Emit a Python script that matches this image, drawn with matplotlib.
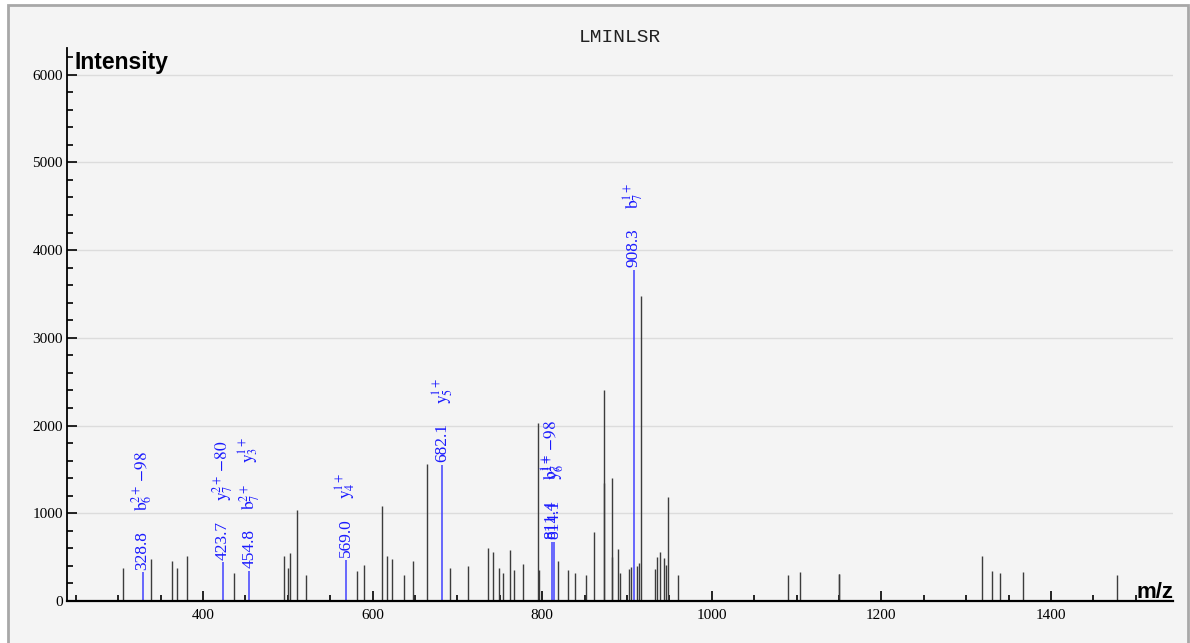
import matplotlib
matplotlib.use('Agg')
import matplotlib.pyplot as plt
from matplotlib.patches import Rectangle
from matplotlib.ticker import MultipleLocator

plt.rcParams['mathtext.fontset'] = 'stix'

title = 'LMINLSR'

# unmatched peaks (m/z, intensity)
peak_mz = [305.2, 339.2, 363.3, 370.0, 381.2, 437.0, 495.1, 500.2, 502.1, 510.4,
           522.0, 581.2, 589.6, 610.8, 617.4, 622.6, 636.8, 648.0, 664.8, 691.4,
           712.7, 736.4, 741.9, 749.5, 754.4, 762.0, 766.5, 777.6, 795.0, 796.7,
           818.7, 830.3, 838.8, 851.8, 860.8, 872.5, 873.2, 882.2, 882.8, 889.3,
           891.9, 902.8, 904.8, 911.5, 914.3, 916.6, 933.5, 935.9, 939.4, 944.1,
           946.1, 948.1, 960.7, 1089.9, 1103.6, 1149.6, 1150.5, 1318.5, 1330.3, 1339.5,
           1367.3, 1477.7]
peak_int = [380, 479, 456, 373, 517, 323, 515, 373, 546, 1038,
            297, 346, 405, 1084, 512, 481, 295, 456, 1563, 371,
            397, 601, 557, 380, 314, 578, 354, 424, 2034, 350,
            456, 355, 321, 298, 783, 1346, 2407, 500, 1397, 593,
            316, 365, 392, 403, 430, 3471, 365, 506, 559, 487,
            407, 1183, 298, 297, 325, 308, 305, 513, 339, 319,
            327, 297]

# matched peaks with their ion labels
match_mz = [328.8, 423.7, 454.8, 569.0, 682.1, 811.4, 814.1, 908.3]
match_int = [327, 441, 346, 470, 1548, 677, 677, 3776]
match_ions = [[r'$\mathrm{b}_6^{2+}\,{-}98$'],
              [r'$\mathrm{y}_7^{2+}\,{-}80$'],
              [r'$\mathrm{b}_7^{2+}$', r'$\mathrm{y}_3^{1+}$'],
              [r'$\mathrm{y}_4^{1+}$'],
              [r'$\mathrm{y}_5^{1+}$'],
              [r'$\mathrm{b}_7^{1+}\,{-}98$'],
              [r'$\mathrm{y}_6^{1+}$'],
              [r'$\mathrm{b}_7^{1+}$']]

W, H = 1190, 643
fig = plt.figure(figsize=(W / 100, H / 100), dpi=100)
fig.patch.set_facecolor('white')
fig.add_artist(Rectangle((8 / W, -0.01), (1188 - 8) / W, 1.01 - 5 / H, transform=fig.transFigure,
                         facecolor='#f4f4f4', edgecolor='#a8a8a8', lw=2, zorder=-10))

ax = fig.add_axes([67 / W, 1 - 601 / H, (1172.7 - 67) / W, (601 - 48.3) / H])
ax.set_facecolor('none')

ax.vlines(peak_mz, 0, peak_int, colors='#3c3c3c', lw=1.0)
ax.vlines(match_mz, 0, match_int, colors='#4040ff', lw=1.1)

ax.set_xlim(239.7, 1543.6)
ax.set_ylim(0, 6300)

ax.xaxis.set_major_locator(MultipleLocator(200))
ax.xaxis.set_minor_locator(MultipleLocator(50))
ax.yaxis.set_major_locator(MultipleLocator(1000))
ax.yaxis.set_minor_locator(MultipleLocator(200))
ax.tick_params(which='both', direction='in', width=1.2, color='black')
ax.tick_params(which='major', length=7)
ax.tick_params(which='minor', length=4.3)
ax.tick_params(axis='x', which='major', pad=6)
ax.tick_params(axis='y', which='major', pad=3)
for lab in ax.get_xticklabels() + ax.get_yticklabels():
    lab.set_family('Liberation Serif')
    lab.set_fontsize(11)

ax.yaxis.grid(True, color='#dcdcdc', lw=1)
ax.set_axisbelow(True)
for s in ['top', 'right']:
    ax.spines[s].set_visible(False)
ax.spines['left'].set_linewidth(1.3)
ax.spines['bottom'].set_linewidth(1.6)

# labels on matched peaks
fig.canvas.draw()
rend = fig.canvas.get_renderer()
lbl_kw = dict(textcoords='offset points', rotation=90, ha='center', va='bottom',
              color='#1a1aff', fontsize=12.5, family='Liberation Serif')
for mz, it, ions in zip(match_mz, match_int, match_ions):
    ax.annotate(f'{mz:.1f}', (mz, it), xytext=(0, 2), **lbl_kw)
    off = 44
    for ion in ions:
        t = ax.annotate(ion, (mz, it), xytext=(0, off), **lbl_kw)
        h = t.get_window_extent(rend).height
        off += (h + 20) * 72 / 100

fig.text(620 / W, 1 - 37 / H, title, ha='center', va='center',
         family='Liberation Mono', fontsize=14, color='#222222')
fig.text(74 / W, 1 - 51 / H, 'Intensity', ha='left', va='top',
         family='Liberation Sans', fontweight='bold', fontsize=16.5)
fig.text(1173 / W, 1 - 598 / H, 'm/z', ha='right', va='baseline',
         family='Liberation Sans', fontweight='bold', fontsize=16)

fig.savefig('out.png', dpi=100)
